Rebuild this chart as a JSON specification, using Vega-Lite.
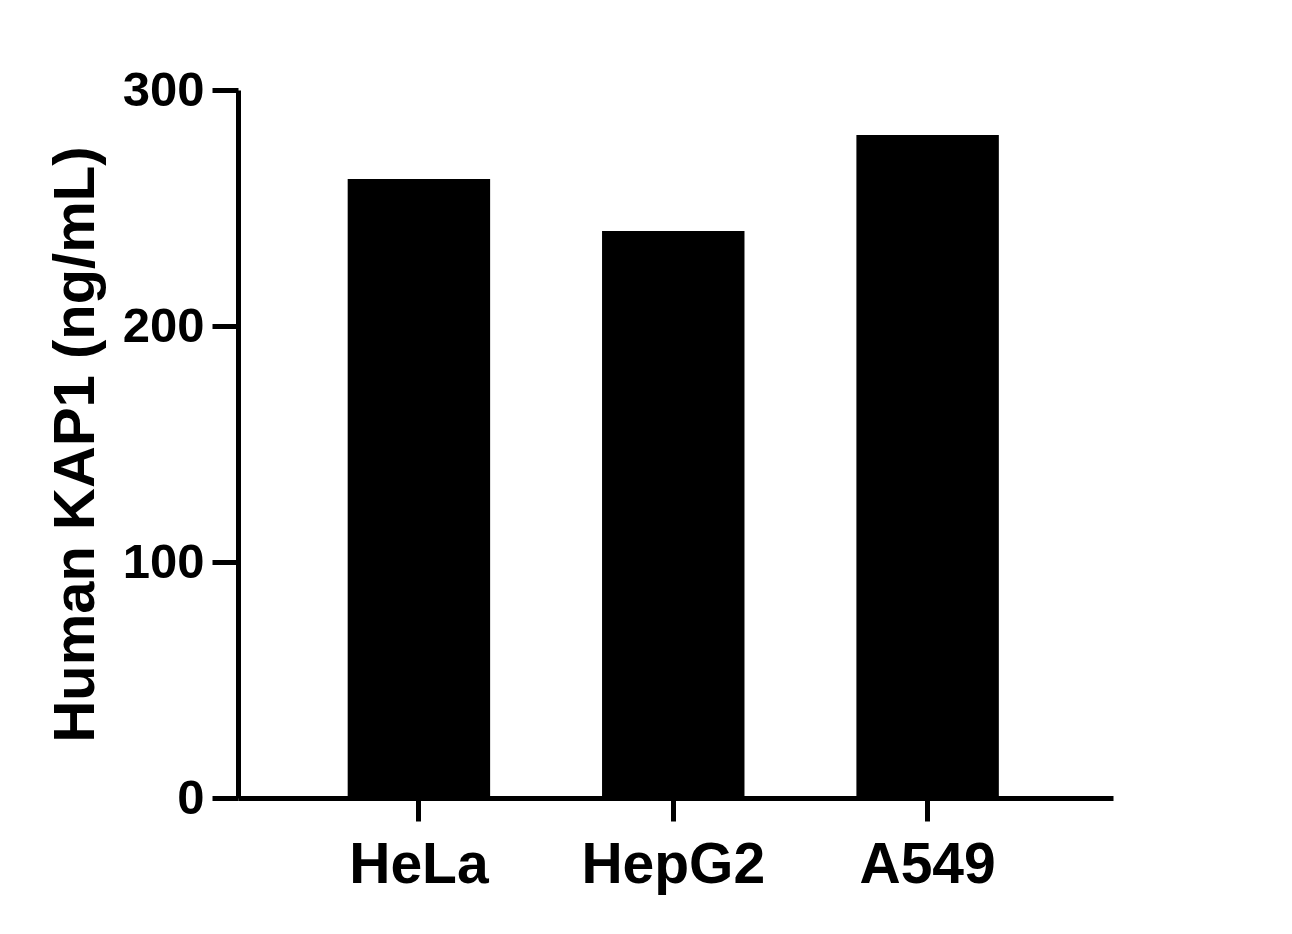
{
  "$schema": "https://vega.github.io/schema/vega-lite/v6.json",
  "autosize": "none",
  "padding": {"left": 238, "top": 90, "right": 179, "bottom": 136},
  "width": 875,
  "height": 708,
  "background": "white",
  "config": {
    "view": {"stroke": null},
    "font": "Liberation Sans",
    "axis": {
      "domainColor": "black",
      "domainWidth": 5,
      "tickColor": "black",
      "tickWidth": 5,
      "labelColor": "black",
      "labelFont": "Liberation Sans",
      "labelFontWeight": "bold",
      "titleFont": "Liberation Sans",
      "titleFontWeight": "bold",
      "titleColor": "black",
      "grid": false
    }
  },
  "data": {
    "values": [
      {"cell": "HeLa", "value": 262.3},
      {"cell": "HepG2", "value": 240.3},
      {"cell": "A549", "value": 280.9}
    ]
  },
  "mark": {"type": "bar", "color": "black"},
  "encoding": {
    "x": {
      "field": "cell",
      "type": "nominal",
      "sort": null,
      "scale": {"paddingInner": 0.44, "paddingOuter": 0.44, "align": 0.49},
      "axis": {
        "title": null,
        "labelAngle": 0,
        "labelFontSize": 57,
        "labelLimit": 0,
        "tickSize": 23,
        "labelPadding": 16
      }
    },
    "y": {
      "field": "value",
      "type": "quantitative",
      "scale": {"domain": [0, 300], "nice": false},
      "axis": {
        "title": "Human KAP1 (ng/mL)",
        "titleFontSize": 58,
        "titlePadding": 17,
        "values": [0, 100, 200, 300],
        "labelFontSize": 49,
        "tickSize": 26,
        "labelPadding": 8
      }
    }
  }
}
